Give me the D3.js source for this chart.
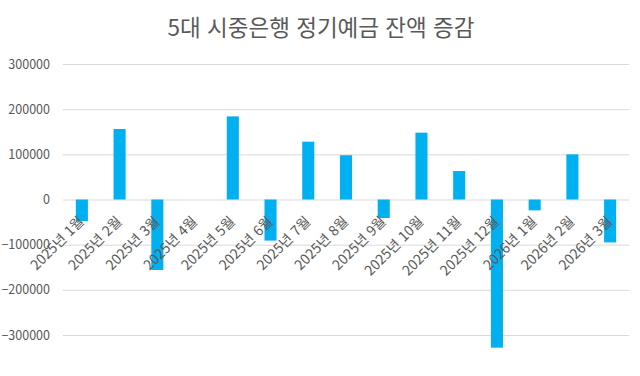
<!DOCTYPE html>
<html lang="ko">
<head>
<meta charset="UTF-8">
<title>5대 시중은행 정기예금 잔액 증감</title>
<script src="https://cdn.jsdelivr.net/npm/d3@7"></script>
<style>
    body { margin: 0; background: #fff; }
    svg text { font-family: "Noto Sans CJK KR", "Noto Sans", sans-serif; fill: #595959; }
</style>
</head>
<body>
<svg id="main" width="640" height="376"></svg>
<script>
    // data
    const months = ["2025년 1월", "2025년 2월", "2025년 3월", "2025년 4월", "2025년 5월",
        "2025년 6월", "2025년 7월", "2025년 8월", "2025년 9월", "2025년 10월",
        "2025년 11월", "2025년 12월", "2026년 1월", "2026년 2월", "2026년 3월"];
    const changes = [-48000, 156000, -156000, 0, 184000, -91000, 128000, 98000,
        -41000, 148000, 63000, -328000, -24000, 100000, -95000];
    const yTicks = [-300000, -200000, -100000, 0, 100000, 200000, 300000];

    const margin = {top: 64, left: 63, right: 11, bottom: 41};
    const W = 640, H = 376;

    const svg = d3.select("svg#main");

    const x = d3.scaleBand()
        .domain(months)
        .range([margin.left, W - margin.right])
        .paddingInner(0.68)
        .paddingOuter(0.34);

    const y = d3.scaleLinear()
        .domain([-300000, 300000])
        .range([H - margin.bottom, margin.top]);

    // title
    svg.append("text")
        .attr("x", 321).attr("y", 36)
        .attr("text-anchor", "middle")
        .style("font-size", "22.5px")
        .text("5대 시중은행 정기예금 잔액 증감");

    // gridlines + y labels
    const yAxis = d3.axisLeft(y)
        .tickValues(yTicks)
        .tickSize(-(W - margin.left - margin.right))
        .tickPadding(13)
        .tickFormat(d3.format("d"));

    const gy = svg.append("g")
        .attr("transform", `translate(${margin.left},0)`)
        .call(yAxis);
    gy.select(".domain").remove();
    gy.selectAll(".tick line").attr("stroke", "#d9d9d9");
    gy.selectAll(".tick text").style("font-size", "12.5px").attr("fill", "#595959");

    // bars
    svg.append("g").selectAll("rect")
        .data(changes)
        .join("rect")
        .attr("x", (d, i) => x(months[i]))
        .attr("width", x.bandwidth())
        .attr("y", d => y(Math.max(0, d)))
        .attr("height", d => Math.abs(y(d) - y(0)))
        .attr("fill", "#00b0f0");

    // category labels, rotated at the zero line
    svg.append("g").selectAll("text")
        .data(months)
        .join("text")
        .attr("transform", d => `translate(${x(d) + x.bandwidth() / 2 + 3},${y(0) + 23}) rotate(-45)`)
        .attr("text-anchor", "end")
        .style("font-size", "14px")
        .text(d => d);
</script>
</body>
</html>
